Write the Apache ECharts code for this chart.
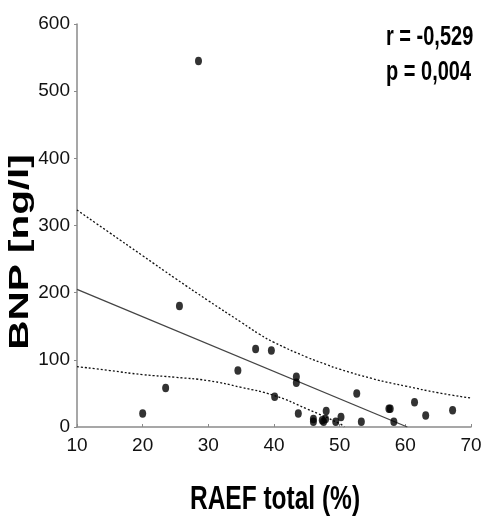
<!DOCTYPE html>
<html>
<head>
<meta charset="utf-8">
<script src="https://cdn.jsdelivr.net/npm/echarts@6/dist/echarts.min.js"></script>
<style>html,body{margin:0;padding:0;background:#fff;}#c{width:486px;height:521px;}</style>
</head>
<body>
<div id="c"></div>
<script>
// Scatter data: RAEF total (%) vs BNP (ng/l)
var raef = [20.0, 23.5, 25.6, 28.5, 34.5, 37.2, 39.6, 40.1, 43.4, 43.4, 43.7, 46.0, 46.0, 47.35, 47.55, 47.85, 47.95, 49.4, 50.2, 52.6, 53.3, 57.5, 57.7, 58.25, 61.4, 63.1, 67.2];
var bnp  = [20, 58, 180, 545, 84, 116, 114, 45, 75, 66, 20, 12, 8, 10, 8, 12, 24, 8, 15, 50, 8, 27, 27, 8, 37, 17, 25];
// Regression line
var fitX = [10, 60.3];
var fitY = [205, 0];
// Confidence band
var upperX = [10, 15, 20, 25, 30, 35, 37.8, 40, 45, 48, 50, 55, 58, 60, 65, 70];
var upperY = [323, 289, 255, 221, 188, 156, 138, 126, 104, 93, 86, 72, 65, 61, 51, 43];
var lowerX = [10, 15, 20, 25, 30, 35, 40, 45, 50, 50.7];
var lowerY = [90, 84, 78, 74, 69, 59, 47, 27, 5, 0];
// Axis ticks
var xTicks = [10, 20, 30, 40, 50, 60, 70];
var yTicks = [0, 100, 200, 300, 400, 500, 600];
var statText = ['r = -0,529', 'p = 0,004'];
var xTitle = 'RAEF total (%)';
var yTitle = 'BNP [ng/l]';

function zip(a, b) { return a.map(function (v, i) { return [v, b[i]]; }); }

var sans = "'Liberation Sans', Arial, sans-serif";
var chart = echarts.init(document.getElementById('c'));
chart.setOption({
  animation: false,
  backgroundColor: '#fff',
  grid: { left: 77, right: 15, top: 24, bottom: 94 },
  xAxis: {
    type: 'value', min: xTicks[0], max: xTicks[xTicks.length - 1], interval: 10,
    splitLine: { show: false },
    axisLine: { lineStyle: { color: '#8a8a8a', width: 1.5 } },
    axisTick: { inside: true, length: 3, lineStyle: { color: '#8a8a8a' } },
    axisLabel: { color: '#111', fontFamily: sans, fontSize: 19, margin: 9 }
  },
  yAxis: {
    type: 'value', min: yTicks[0], max: yTicks[yTicks.length - 1], interval: 100,
    splitLine: { show: false },
    axisLine: { show: true, lineStyle: { color: '#8a8a8a', width: 1.5 } },
    axisTick: { show: true, length: 3, lineStyle: { color: '#8a8a8a' } },
    axisLabel: { color: '#111', fontFamily: sans, fontSize: 19, margin: 7 }
  },
  graphic: [
    { type: 'text', x: 21, y: 252, rotation: Math.PI / 2, scaleX: 1.5,
      style: { text: yTitle, fill: '#000', font: "bold 27px " + sans, align: 'center', verticalAlign: 'middle' } },
    { type: 'text', x: 275, y: 500, scaleY: 1.35,
      style: { text: xTitle, fill: '#000', font: "bold 24.5px " + sans, align: 'center', verticalAlign: 'middle' } },
    { type: 'text', x: 386, y: 37, scaleY: 1.4,
      style: { text: statText[0], fill: '#000', font: "bold 20px " + sans, align: 'left', verticalAlign: 'middle' } },
    { type: 'text', x: 386, y: 72, scaleY: 1.4,
      style: { text: statText[1], fill: '#000', font: "bold 20px " + sans, align: 'left', verticalAlign: 'middle' } }
  ],
  series: [
    { type: 'line', data: zip(upperX, upperY), symbol: 'none', smooth: 0.5,
      lineStyle: { color: '#111', width: 1.3, type: [2, 2] }, z: 2 },
    { type: 'line', data: zip(lowerX, lowerY), symbol: 'none', smooth: 0.5,
      lineStyle: { color: '#111', width: 1.3, type: [2, 2] }, z: 2 },
    { type: 'line', data: zip(fitX, fitY), symbol: 'none',
      lineStyle: { color: '#444', width: 1.3 }, z: 2 },
    { type: 'scatter', data: zip(raef, bnp), symbol: 'circle', symbolSize: [7, 8.5],
      itemStyle: { color: '#000' }, z: 3 }
  ]
});
</script>
</body>
</html>
